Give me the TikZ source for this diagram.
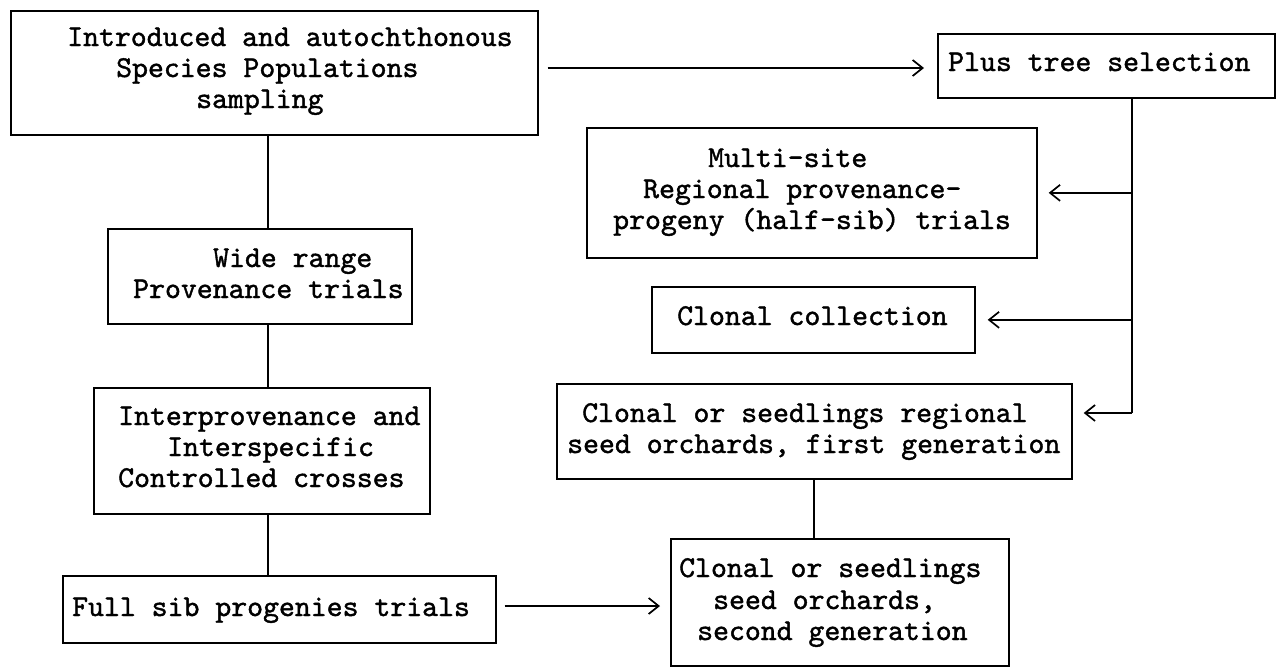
\documentclass[tikz,border=0pt]{standalone}
\usetikzlibrary{arrows.meta}
\font\twfont="[lmmono10-regular]:embolden=1.3" at 30.3pt
\begin{document}
\begin{tikzpicture}[x=1pt,y=-1pt,
  box/.style={draw=black, line width=1.7pt, inner sep=0pt, anchor=north west, rectangle},
  ln/.style={anchor=base west, inner sep=0pt, font=\twfont},
  conn/.style={draw=black, line width=1.7pt},
  arr/.style={draw=black, line width=1.7pt, -{Straight Barb[length=10pt,width=16pt,line width=1.7pt]}}]
\useasboundingbox (0,0) rectangle (1278,667);
\fill[white] (0,0) rectangle (1278,667);

% boxes
\node[box, minimum width=527, minimum height=124] (b1) at (10,10) {};
\node[box, minimum width=337, minimum height=64] (pt) at (937,33) {};
\node[box, minimum width=450, minimum height=130] (ms) at (586,127) {};
\node[box, minimum width=304, minimum height=95] (wr) at (107,228) {};
\node[box, minimum width=323, minimum height=66] (cc) at (651,286) {};
\node[box, minimum width=336, minimum height=126] (ic) at (93,387) {};
\node[box, minimum width=515, minimum height=95] (rg) at (556,383) {};
\node[box, minimum width=433, minimum height=67] (fs) at (62,575) {};
\node[box, minimum width=338, minimum height=127] (so) at (670,538) {};

% texts
\node[ln] (b1a) at (67,46) {Introduced and autochthonous};
\node[ln] (b1b) at (116,77) {Species Populations};
\node[ln] (b1c) at (196,108) {sampling};
\node[ln] (pta) at (948,71) {Plus tree selection};
\node[ln] (msa) at (708,167) {Multi-site};
\node[ln] (msb) at (643,198) {Regional provenance-};
\node[ln] (msc) at (613,229) {progeny (half-sib) trials};
\node[ln] (wra) at (213,267) {Wide range};
\node[ln] (wrb) at (133,298) {Provenance trials};
\node[ln] (cca) at (677,325) {Clonal collection};
\node[ln] (ica) at (118,425) {Interprovenance and};
\node[ln] (icb) at (167,456) {Interspecific};
\node[ln] (icc) at (118,487) {Controlled crosses};
\node[ln] (rga) at (582,422) {Clonal or seedlings regional};
\node[ln] (rgb) at (567,453) {seed orchards, first generation};
\node[ln] (fsa) at (72,616) {Full sib progenies trials};
\node[ln] (soa) at (679,577) {Clonal or seedlings};
\node[ln] (sob) at (713,609) {seed orchards,};
\node[ln] (soc) at (697,640) {second generation};

% helper coordinates
\coordinate (lx) at (268,0);
\coordinate (rx) at (814,0);
\coordinate (tx) at (1132,0);
\coordinate (t3) at (1132,413);
\coordinate (ay) at (0,68);
\coordinate (fy) at (0,606);

% left column connectors
\draw[conn] (b1.south -| lx) -- (wr.north -| lx);
\draw[conn] (wr.south -| lx) -- (ic.north -| lx);
\draw[conn] (ic.south -| lx) -- (fs.north -| lx);

% top arrow
\draw[arr, shorten <=9pt, shorten >=13pt] (b1.east |- ay) -- (pt.west |- ay);

% trunk and branches
\draw[conn] (pt.south -| tx) -- (t3);
\draw[arr, shorten >=11pt] (ms.east -| tx) -- (ms.east);
\draw[arr, shorten >=12pt] (cc.east -| tx) -- (cc.east);
\draw[arr, shorten >=11pt] (t3) -- (rg.east |- t3);

% lower right connector
\draw[conn] (rg.south -| rx) -- (so.north -| rx);

% bottom arrow
\draw[arr, shorten <=8pt, shorten >=10pt] (fs.east |- fy) -- (so.west |- fy);
\end{tikzpicture}
\end{document}
